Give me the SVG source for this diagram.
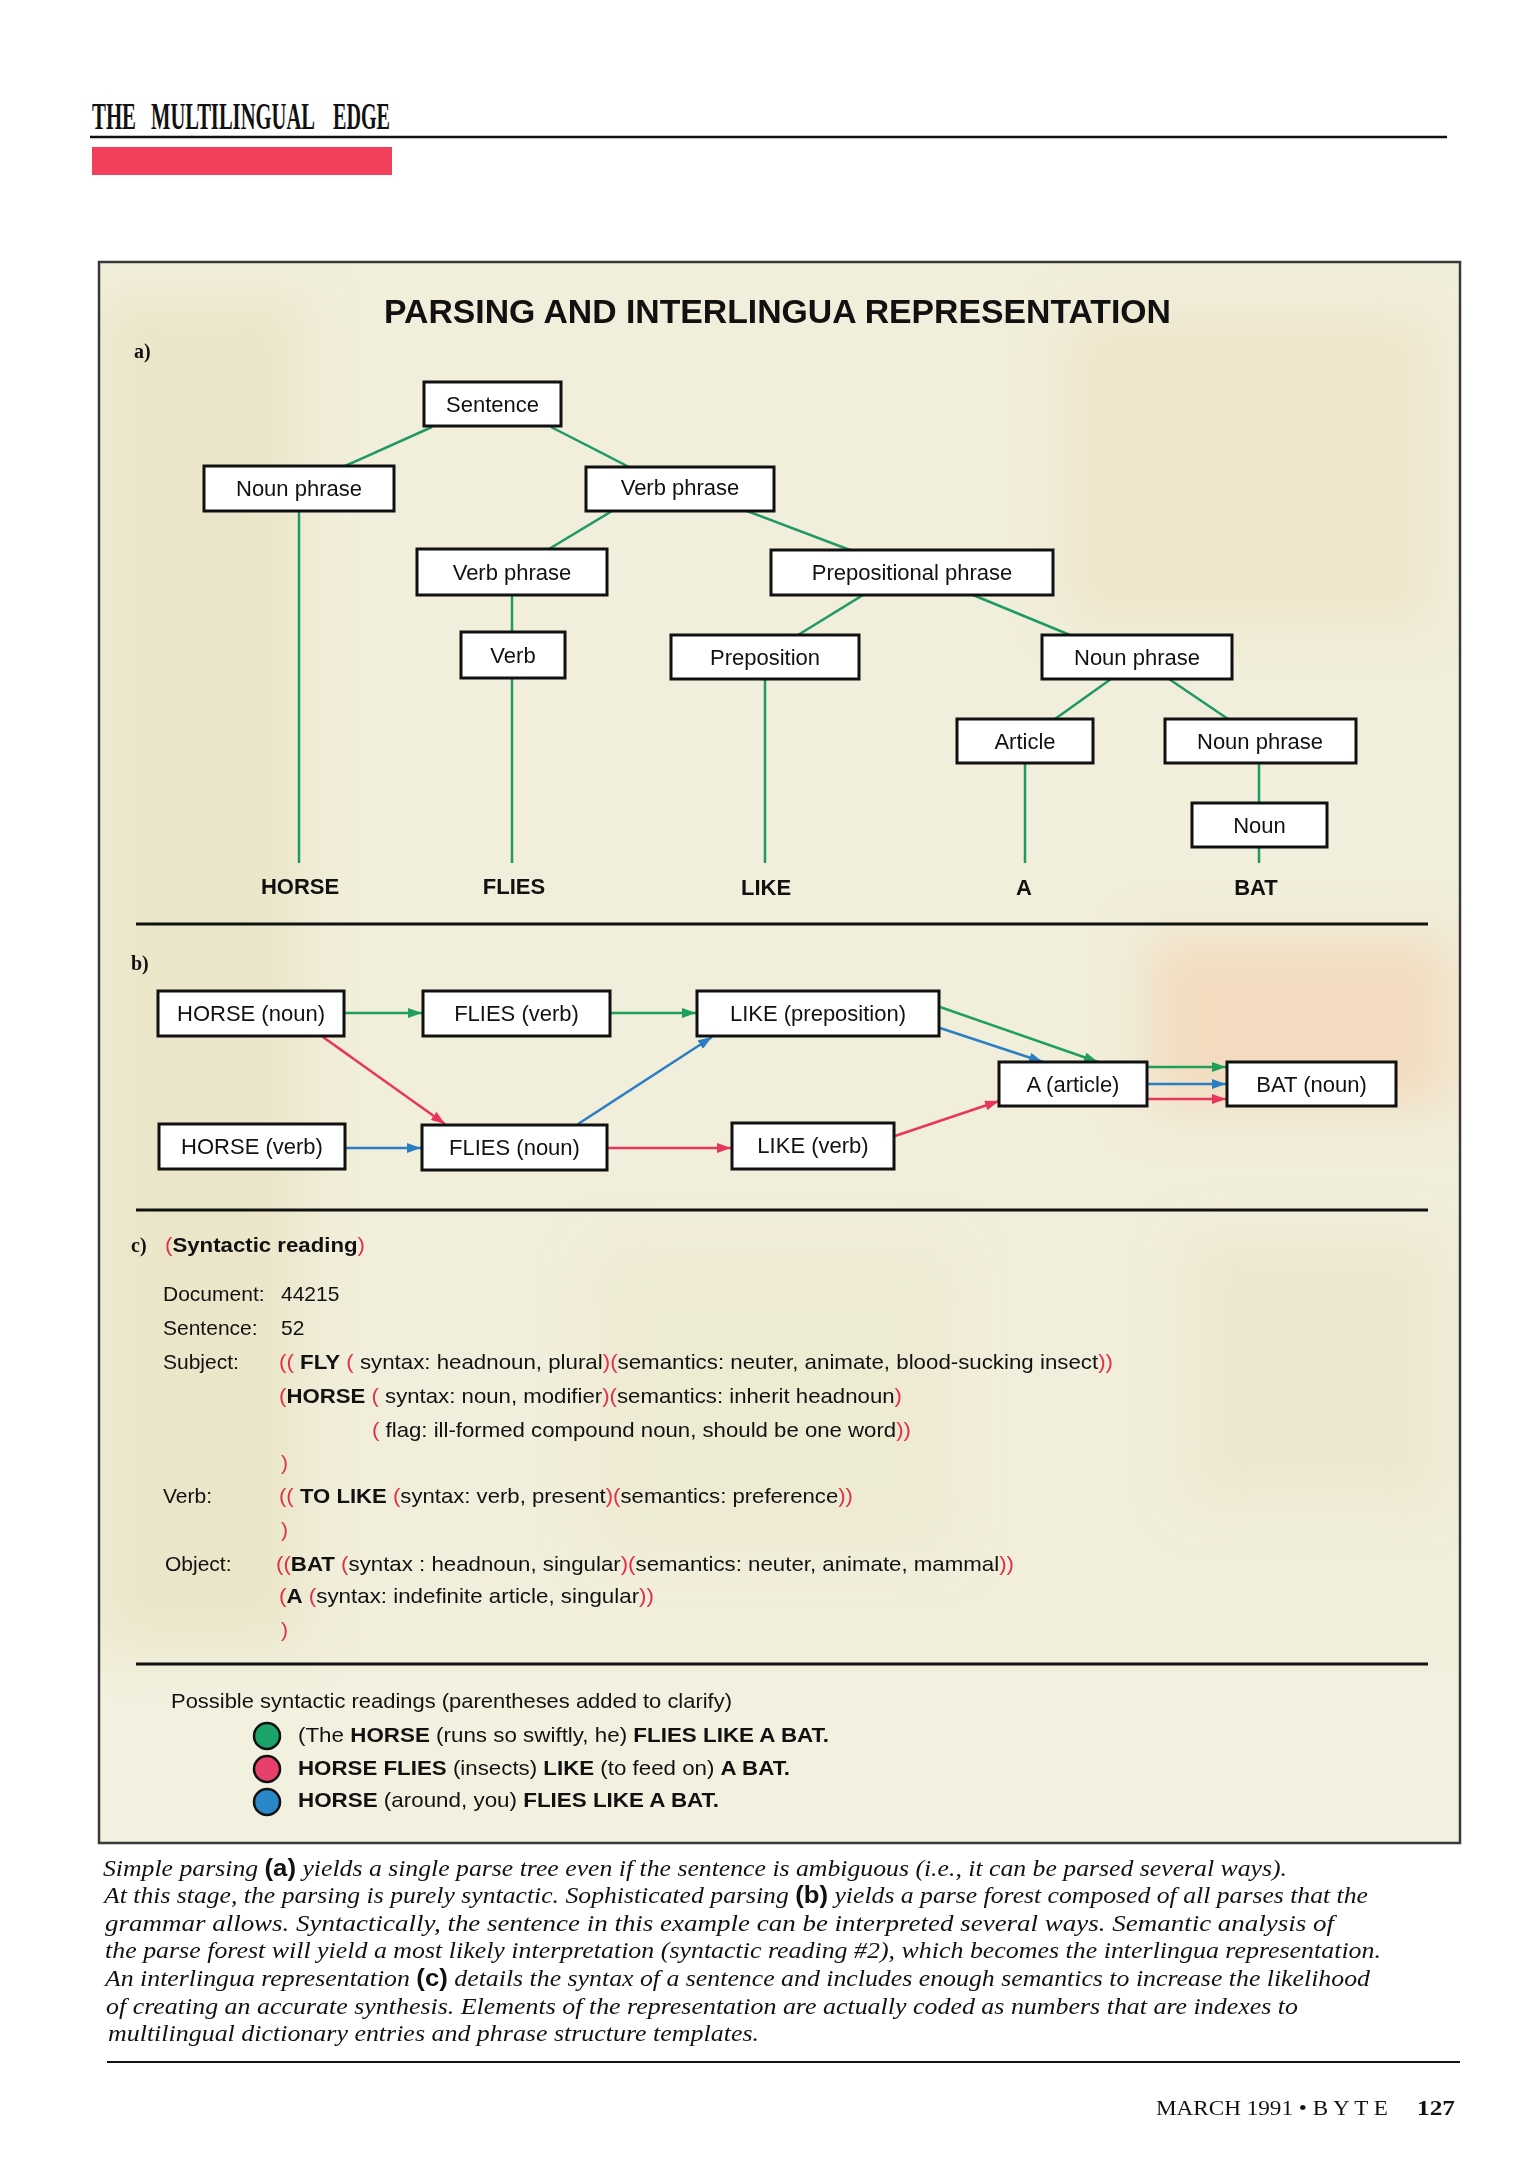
<svg xmlns="http://www.w3.org/2000/svg" width="1535" height="2160" viewBox="0 0 1535 2160">
<defs>
<style>
.box{fill:#ffffff;stroke:#111;stroke-width:3}
.bt{font-family:"Liberation Sans",Arial,sans-serif;font-size:22px;fill:#111;text-anchor:middle}
.leaf{font-family:"Liberation Sans",Arial,sans-serif;font-size:22px;font-weight:bold;fill:#111;text-anchor:middle}
.tl{stroke:#1f9a62;stroke-width:2.5;fill:none}
.g{stroke:#1fa05a;stroke-width:2.5;fill:none}
.bl{stroke:#2a7fc4;stroke-width:2.5;fill:none}
.rd{stroke:#e8365a;stroke-width:2.5;fill:none}
.sep{stroke:#111;stroke-width:3}
.lab{font-family:"Liberation Serif","Times New Roman",serif;font-size:20px;font-weight:bold;fill:#111}
.c{font-family:"Liberation Sans",Arial,sans-serif;font-size:21px;fill:#111}
.r{fill:#e0304a}
.b{font-weight:bold}
.cap{font-family:"Liberation Serif","Times New Roman",serif;font-size:23px;font-style:italic;fill:#111}
.cb{font-family:"Liberation Sans",Arial,sans-serif;font-style:normal;font-weight:bold}
.hd{font-family:"Liberation Serif","Times New Roman",serif;font-size:20px;font-weight:bold;fill:#111}
</style>
<filter id="soft" x="-20%" y="-20%" width="140%" height="140%"><feGaussianBlur stdDeviation="25"/></filter>
<marker id="ag" markerUnits="userSpaceOnUse" markerWidth="14" markerHeight="10" viewBox="0 0 14 10" refX="14" refY="5" orient="auto"><path d="M0,0 L14,5 L0,10 z" fill="#1fa05a"/></marker>
<marker id="ab" markerUnits="userSpaceOnUse" markerWidth="14" markerHeight="10" viewBox="0 0 14 10" refX="14" refY="5" orient="auto"><path d="M0,0 L14,5 L0,10 z" fill="#2a7fc4"/></marker>
<marker id="ar" markerUnits="userSpaceOnUse" markerWidth="14" markerHeight="10" viewBox="0 0 14 10" refX="14" refY="5" orient="auto"><path d="M0,0 L14,5 L0,10 z" fill="#e8365a"/></marker>
<clipPath id="fc"><rect x="99" y="262" width="1361" height="1581"/></clipPath>
</defs>
<rect x="0" y="0" width="1535" height="2160" fill="#ffffff"/>

<!-- header -->
<g id="header">
<g transform="translate(0,129) scale(1,1.85)">
<text class="hd" x="92" y="0" textLength="44" lengthAdjust="spacingAndGlyphs">THE</text>
<text class="hd" x="151" y="0" textLength="164" lengthAdjust="spacingAndGlyphs">MULTILINGUAL</text>
<text class="hd" x="333" y="0" textLength="57" lengthAdjust="spacingAndGlyphs">EDGE</text>
</g>
<line x1="90" y1="137" x2="1447" y2="137" stroke="#111" stroke-width="2.5"/>
<rect x="92" y="147" width="300" height="28" fill="#f2405a"/>
</g>

<!-- frame background -->
<g id="frame">
<rect x="99" y="262" width="1361" height="1581" fill="#f1eedb"/>
<g clip-path="url(#fc)"><g filter="url(#soft)">
<rect x="101" y="300" width="200" height="1340" fill="#e8e2c2" opacity="0.7"/>
<rect x="1070" y="320" width="360" height="300" fill="#eee0c0" opacity="0.6"/>
<rect x="1150" y="940" width="300" height="165" fill="#f3d9bb" opacity="0.9"/>
<rect x="1190" y="1240" width="250" height="260" fill="#e9e5c6" opacity="0.6"/>
<rect x="600" y="1250" width="350" height="300" fill="#ebe7cc" opacity="0.5"/>
</g></g>
<rect x="101" y="1672" width="1357" height="168" fill="#f4f1e0" opacity="0.6"/>
<rect x="99" y="262" width="1361" height="1581" fill="none" stroke="#3a3a3a" stroke-width="2.5"/>
</g>

<text x="384" y="323" font-family="'Liberation Sans',Arial,sans-serif" font-size="34" font-weight="bold" fill="#111" textLength="787" lengthAdjust="spacingAndGlyphs">PARSING AND INTERLINGUA REPRESENTATION</text>
<text class="lab" x="134" y="358">a)</text>

<!-- connectors -->
<g id="connectors">
<line class="tl" x1="432" y1="427" x2="345" y2="466"/>
<line class="tl" x1="551" y1="427" x2="629" y2="467"/>
<line class="tl" x1="299" y1="511" x2="299" y2="863"/>
<line class="tl" x1="612" y1="511" x2="549" y2="549"/>
<line class="tl" x1="747" y1="511" x2="850" y2="550"/>
<line class="tl" x1="512" y1="595" x2="512" y2="632"/>
<line class="tl" x1="512" y1="678" x2="512" y2="863"/>
<line class="tl" x1="863" y1="595" x2="798" y2="635"/>
<line class="tl" x1="973" y1="595" x2="1070" y2="635"/>
<line class="tl" x1="765" y1="679" x2="765" y2="863"/>
<line class="tl" x1="1111" y1="679" x2="1055" y2="719"/>
<line class="tl" x1="1169" y1="679" x2="1228" y2="719"/>
<line class="tl" x1="1025" y1="763" x2="1025" y2="863"/>
<line class="tl" x1="1259" y1="763" x2="1259" y2="803"/>
<line class="tl" x1="1259" y1="847" x2="1259" y2="863"/>

<line class="g" x1="344" y1="1013" x2="422" y2="1013" marker-end="url(#ag)"/>
<line class="g" x1="610" y1="1013" x2="696" y2="1013" marker-end="url(#ag)"/>
<line class="rd" x1="323" y1="1037" x2="445" y2="1124" marker-end="url(#ar)"/>
<line class="bl" x1="345" y1="1148" x2="421" y2="1148" marker-end="url(#ab)"/>
<line class="bl" x1="578" y1="1124" x2="712" y2="1037" marker-end="url(#ab)"/>
<line class="rd" x1="607" y1="1148" x2="731" y2="1148" marker-end="url(#ar)"/>
<line class="g" x1="940" y1="1007" x2="1098" y2="1062" marker-end="url(#ag)"/>
<line class="bl" x1="940" y1="1028" x2="1043" y2="1062" marker-end="url(#ab)"/>
<line class="rd" x1="895" y1="1136" x2="999" y2="1101" marker-end="url(#ar)"/>
<line class="g" x1="1147" y1="1067" x2="1226" y2="1067" marker-end="url(#ag)"/>
<line class="bl" x1="1147" y1="1084" x2="1226" y2="1084" marker-end="url(#ab)"/>
<line class="rd" x1="1147" y1="1099" x2="1226" y2="1099" marker-end="url(#ar)"/>
</g>

<!-- tree nodes -->
<g id="n-sentence"><rect class="box" x="424" y="382" width="137" height="44"/><text class="bt" x="492.5" y="412">Sentence</text></g>
<g id="n-np1"><rect class="box" x="204" y="466" width="190" height="45"/><text class="bt" x="299" y="496">Noun phrase</text></g>
<g id="n-vp1"><rect class="box" x="586" y="467" width="188" height="44"/><text class="bt" x="680" y="495">Verb phrase</text></g>
<g id="n-vp2"><rect class="box" x="417" y="549" width="190" height="46"/><text class="bt" x="512" y="580">Verb phrase</text></g>
<g id="n-pp"><rect class="box" x="771" y="550" width="282" height="45"/><text class="bt" x="912" y="580">Prepositional phrase</text></g>
<g id="n-verb"><rect class="box" x="461" y="632" width="104" height="46"/><text class="bt" x="513" y="663">Verb</text></g>
<g id="n-prep"><rect class="box" x="671" y="635" width="188" height="44"/><text class="bt" x="765" y="665">Preposition</text></g>
<g id="n-np2"><rect class="box" x="1042" y="635" width="190" height="44"/><text class="bt" x="1137" y="665">Noun phrase</text></g>
<g id="n-article"><rect class="box" x="957" y="719" width="136" height="44"/><text class="bt" x="1025" y="749">Article</text></g>
<g id="n-np3"><rect class="box" x="1165" y="719" width="191" height="44"/><text class="bt" x="1260" y="749">Noun phrase</text></g>
<g id="n-noun"><rect class="box" x="1192" y="803" width="135" height="44"/><text class="bt" x="1259.5" y="833">Noun</text></g>

<g id="leaves">
<text class="leaf" x="300" y="894">HORSE</text>
<text class="leaf" x="514" y="894">FLIES</text>
<text class="leaf" x="766" y="895">LIKE</text>
<text class="leaf" x="1024" y="895">A</text>
<text class="leaf" x="1256" y="895">BAT</text>
</g>

<line class="sep" x1="136" y1="924" x2="1428" y2="924"/>
<text class="lab" x="131" y="970">b)</text>

<!-- parse forest nodes -->
<g id="f-horse-noun"><rect class="box" x="158" y="991" width="186" height="45"/><text class="bt" x="251" y="1021">HORSE (noun)</text></g>
<g id="f-flies-verb"><rect class="box" x="423" y="991" width="187" height="45"/><text class="bt" x="516.5" y="1021">FLIES (verb)</text></g>
<g id="f-like-prep"><rect class="box" x="697" y="991" width="242" height="45"/><text class="bt" x="818" y="1021">LIKE (preposition)</text></g>
<g id="f-horse-verb"><rect class="box" x="159" y="1124" width="186" height="45"/><text class="bt" x="252" y="1154">HORSE (verb)</text></g>
<g id="f-flies-noun"><rect class="box" x="422" y="1125" width="185" height="45"/><text class="bt" x="514.5" y="1155">FLIES (noun)</text></g>
<g id="f-like-verb"><rect class="box" x="732" y="1123" width="162" height="46"/><text class="bt" x="813" y="1153">LIKE (verb)</text></g>
<g id="f-a-article"><rect class="box" x="999" y="1062" width="148" height="44"/><text class="bt" x="1073" y="1092">A (article)</text></g>
<g id="f-bat-noun"><rect class="box" x="1227" y="1062" width="169" height="44"/><text class="bt" x="1311.5" y="1092">BAT (noun)</text></g>

<line class="sep" x1="136" y1="1210" x2="1428" y2="1210"/>

<!-- c) -->
<g id="reading">
<text class="lab" x="131" y="1252">c)</text>
<text class="c" x="165" y="1252" textLength="200" lengthAdjust="spacingAndGlyphs"><tspan class="r">(</tspan><tspan class="b">Syntactic reading</tspan><tspan class="r">)</tspan></text>
<text class="c" x="163" y="1301">Document:</text><text class="c" x="281" y="1301">44215</text>
<text class="c" x="163" y="1335">Sentence:</text><text class="c" x="281" y="1335">52</text>
<text class="c" x="163" y="1369">Subject:</text>
<text class="c" x="279" y="1369" textLength="834" lengthAdjust="spacingAndGlyphs"><tspan class="r">((</tspan> <tspan class="b">FLY</tspan> <tspan class="r">(</tspan> syntax: headnoun, plural<tspan class="r">)(</tspan>semantics: neuter, animate, blood-sucking insect<tspan class="r">))</tspan></text>
<text class="c" x="279" y="1403" textLength="623" lengthAdjust="spacingAndGlyphs"><tspan class="r">(</tspan><tspan class="b">HORSE</tspan> <tspan class="r">(</tspan> syntax: noun, modifier<tspan class="r">)(</tspan>semantics: inherit headnoun<tspan class="r">)</tspan></text>
<text class="c" x="372" y="1437" textLength="539" lengthAdjust="spacingAndGlyphs"><tspan class="r">(</tspan> flag: ill-formed compound noun, should be one word<tspan class="r">))</tspan></text>
<text class="c r" x="281" y="1470">)</text>
<text class="c" x="163" y="1503">Verb:</text>
<text class="c" x="279" y="1503" textLength="574" lengthAdjust="spacingAndGlyphs"><tspan class="r">((</tspan> <tspan class="b">TO LIKE</tspan> <tspan class="r">(</tspan>syntax: verb, present<tspan class="r">)(</tspan>semantics: preference<tspan class="r">))</tspan></text>
<text class="c r" x="281" y="1537">)</text>
<text class="c" x="165" y="1571">Object:</text>
<text class="c" x="276" y="1571" textLength="738" lengthAdjust="spacingAndGlyphs"><tspan class="r">((</tspan><tspan class="b">BAT</tspan> <tspan class="r">(</tspan>syntax : headnoun, singular<tspan class="r">)(</tspan>semantics: neuter, animate, mammal<tspan class="r">))</tspan></text>
<text class="c" x="279" y="1603" textLength="375" lengthAdjust="spacingAndGlyphs"><tspan class="r">(</tspan><tspan class="b">A</tspan> <tspan class="r">(</tspan>syntax: indefinite article, singular<tspan class="r">))</tspan></text>
<text class="c r" x="281" y="1637">)</text>
</g>

<line class="sep" x1="136" y1="1664" x2="1428" y2="1664"/>

<g id="legend">
<text class="c" x="171" y="1708" textLength="561" lengthAdjust="spacingAndGlyphs">Possible syntactic readings (parentheses added to clarify)</text>
<circle cx="267" cy="1736" r="13" fill="#1ca36a" stroke="#111" stroke-width="2.5"/>
<circle cx="267" cy="1769" r="13" fill="#e8406a" stroke="#111" stroke-width="2.5"/>
<circle cx="267" cy="1802" r="13" fill="#2a88c8" stroke="#111" stroke-width="2.5"/>
<text class="c" x="298" y="1742" textLength="531" lengthAdjust="spacingAndGlyphs">(The <tspan class="b">HORSE</tspan> (runs so swiftly, he) <tspan class="b">FLIES LIKE A BAT.</tspan></text>
<text class="c" x="298" y="1775" textLength="492" lengthAdjust="spacingAndGlyphs"><tspan class="b">HORSE FLIES</tspan> (insects) <tspan class="b">LIKE</tspan> (to feed on) <tspan class="b">A BAT.</tspan></text>
<text class="c" x="298" y="1807" textLength="421" lengthAdjust="spacingAndGlyphs"><tspan class="b">HORSE</tspan> (around, you) <tspan class="b">FLIES LIKE A BAT.</tspan></text>
</g>

<!-- caption -->
<g id="caption">
<text class="cap" x="103" y="1876" textLength="1184" lengthAdjust="spacingAndGlyphs">Simple parsing <tspan class="cb">(a)</tspan> yields a single parse tree even if the sentence is ambiguous (i.e., it can be parsed several ways).</text>
<text class="cap" x="104" y="1903" textLength="1264" lengthAdjust="spacingAndGlyphs">At this stage, the parsing is purely syntactic. Sophisticated parsing <tspan class="cb">(b)</tspan> yields a parse forest composed of all parses that the</text>
<text class="cap" x="105" y="1931" textLength="1229" lengthAdjust="spacingAndGlyphs">grammar allows. Syntactically, the sentence in this example can be interpreted several ways. Semantic analysis of</text>
<text class="cap" x="105" y="1958" textLength="1276" lengthAdjust="spacingAndGlyphs">the parse forest will yield a most likely interpretation (syntactic reading #2), which becomes the interlingua representation.</text>
<text class="cap" x="105" y="1986" textLength="1265" lengthAdjust="spacingAndGlyphs">An interlingua representation <tspan class="cb">(c)</tspan> details the syntax of a sentence and includes enough semantics to increase the likelihood</text>
<text class="cap" x="106" y="2014" textLength="1192" lengthAdjust="spacingAndGlyphs">of creating an accurate synthesis. Elements of the representation are actually coded as numbers that are indexes to</text>
<text class="cap" x="108" y="2041" textLength="651" lengthAdjust="spacingAndGlyphs">multilingual dictionary entries and phrase structure templates.</text>
</g>
<line x1="107" y1="2062" x2="1460" y2="2062" stroke="#111" stroke-width="2"/>

<g id="footer">
<text x="1156" y="2115" font-family="'Liberation Serif','Times New Roman',serif" font-size="20" fill="#111" textLength="232" lengthAdjust="spacingAndGlyphs">MARCH 1991 • B Y T E</text>
<text x="1417" y="2115" font-family="'Liberation Serif','Times New Roman',serif" font-size="21" font-weight="bold" fill="#111" textLength="38" lengthAdjust="spacingAndGlyphs">127</text>
</g>
</svg>
